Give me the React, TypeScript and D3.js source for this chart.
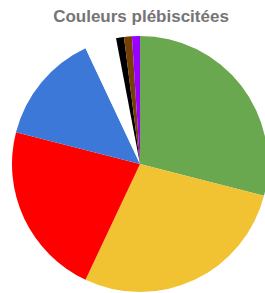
import { useEffect, useRef } from "react";
import * as d3 from "d3";

const colours = ["Vert", "Jaune", "Rouge", "Bleu", "Blanc", "Noir", "Marron", "Violet"];
const votes = [29, 28, 22, 14, 4, 1, 1, 1];
const fills = ["#6aa84f", "#f1c232", "#ff0000", "#3c78d8", "#ffffff", "#000000", "#783f04", "#9900ff"];

export default function App() {
  const ref = useRef<SVGSVGElement | null>(null);

  useEffect(() => {
    if (!ref.current) return;
    const svg = d3.select(ref.current);
    svg.selectAll("*").remove();

    const cx = 140;
    const cy = 164;
    const radius = 128;

    // titre
    svg.append("text")
      .attr("x", 141)
      .attr("y", 22)
      .attr("text-anchor", "middle")
      .attr("font-family", "Liberation Sans, Arial, sans-serif")
      .attr("font-weight", "bold")
      .attr("font-size", 17)
      .attr("fill", "#757575")
      .text("Couleurs plébiscitées");

    const data = colours.map((c, i) => ({ c, v: votes[i], f: fills[i] }));
    const pie = d3.pie<{ c: string; v: number; f: string }>()
      .value(d => d.v)
      .sort(null);
    const arc = d3.arc<d3.PieArcDatum<{ c: string; v: number; f: string }>>()
      .innerRadius(0)
      .outerRadius(radius);

    const g = svg.append("g").attr("transform", `translate(${cx},${cy})`);
    g.selectAll("path")
      .data(pie(data))
      .join("path")
      .attr("d", arc)
      .attr("fill", d => d.data.f);
  }, []);

  return (
    <svg
      ref={ref}
      width={265}
      height={293}
      style={{ position: "absolute", left: 0, top: 0, background: "#fff" }}
    />
  );
}
